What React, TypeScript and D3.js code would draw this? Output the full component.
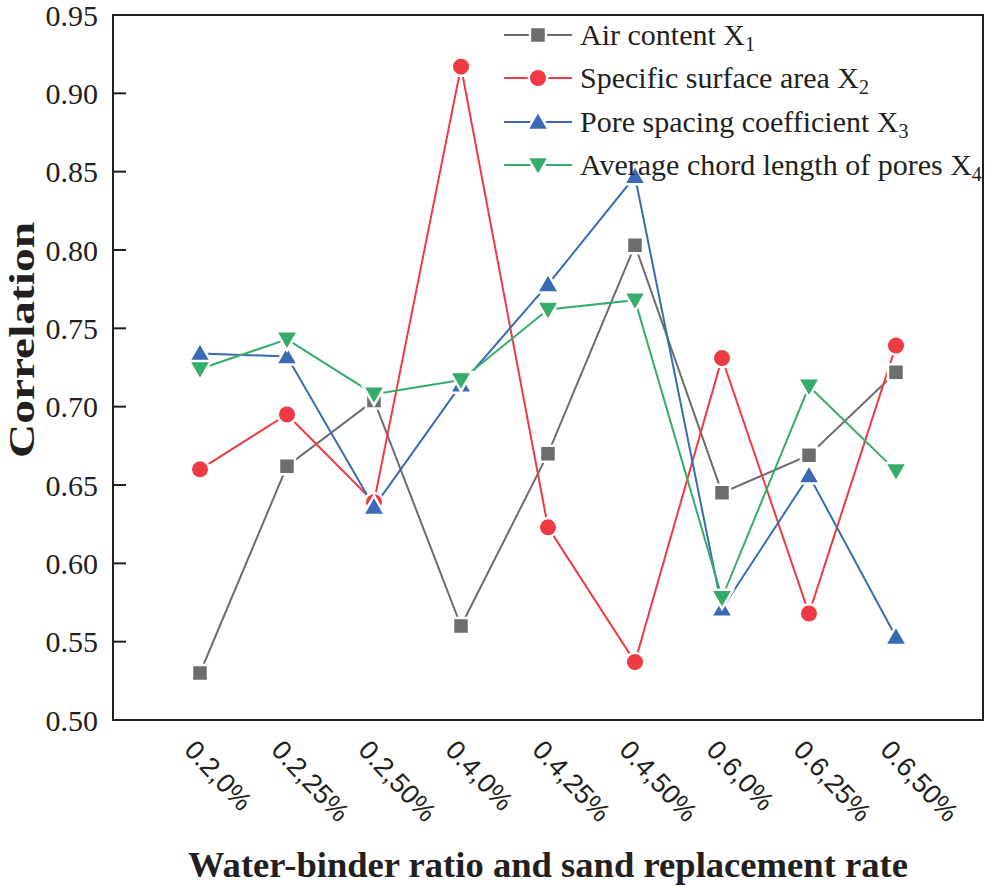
import React, { useEffect, useRef } from 'react';
import * as d3 from 'd3';

const categories = ['0.2,0%', '0.2,25%', '0.2,50%', '0.4,0%', '0.4,25%', '0.4,50%', '0.6,0%', '0.6,25%', '0.6,50%'];
const airContent = [0.530, 0.662, 0.704, 0.560, 0.670, 0.803, 0.645, 0.669, 0.722];
const specificSurface = [0.660, 0.695, 0.639, 0.917, 0.623, 0.537, 0.731, 0.568, 0.739];
const poreSpacing = [0.734, 0.732, 0.636, 0.714, 0.778, 0.847, 0.571, 0.656, 0.553];
const chordLength = [0.724, 0.743, 0.708, 0.717, 0.762, 0.768, 0.578, 0.713, 0.659];
const yTicks = [0.5, 0.55, 0.6, 0.65, 0.7, 0.75, 0.8, 0.85, 0.9, 0.95];

const series = [
    { name: 'Air content X', sub: '1', values: airContent, color: '#6d6d6d', shape: 'square' },
    { name: 'Specific surface area X', sub: '2', values: specificSurface, color: '#ee3b43', shape: 'circle' },
    { name: 'Pore spacing coefficient X', sub: '3', values: poreSpacing, color: '#3a6ab4', shape: 'triangle' },
    { name: 'Average chord length of pores X', sub: '4', values: chordLength, color: '#35ad6a', shape: 'down' },
];

const FONT = '"Liberation Serif", "Times New Roman", serif';
const SANS = '"Liberation Sans", Arial, sans-serif';

function markerPath(shape: string): string {
    if (shape === 'square') return 'M-8,-8H8V8H-8Z';
    if (shape === 'circle') return d3.symbol(d3.symbolCircle, 270)() as string;
    if (shape === 'triangle') return 'M0,-11L11,8H-11Z';
    return 'M0,11L11,-8H-11Z';
}

const App: React.FC = () => {
    const svgRef = useRef<SVGSVGElement>(null);

    useEffect(() => {
        if (!svgRef.current) return;
        const svg = d3.select(svgRef.current);
        svg.selectAll('*').remove();

        const left = 113, right = 983, top = 15, bottom = 720;

        const x = d3.scaleLinear().domain([0, categories.length + 1]).range([left, right]);
        const y = d3.scaleLinear().domain([0.5, 0.95]).range([bottom, top]);

        // frame
        svg.append('rect')
            .attr('x', left).attr('y', top)
            .attr('width', right - left).attr('height', bottom - top)
            .attr('fill', 'none').attr('stroke', '#231f20').attr('stroke-width', 2);

        // y axis ticks + labels
        const yAxis = svg.append('g');
        yTicks.forEach(t => {
            yAxis.append('line')
                .attr('x1', left).attr('x2', left + 13)
                .attr('y1', y(t)).attr('y2', y(t))
                .attr('stroke', '#231f20').attr('stroke-width', 2);
            yAxis.append('text')
                .attr('x', left - 15).attr('y', y(t))
                .attr('dy', '0.35em')
                .attr('text-anchor', 'end')
                .attr('font-family', FONT).attr('font-size', 30)
                .attr('fill', '#231f20')
                .text(t.toFixed(2));
        });

        // x labels
        categories.forEach((c, i) => {
            svg.append('text')
                .attr('transform', `translate(${x(i + 1) - 17},${bottom + 31}) rotate(47)`)
                .attr('text-anchor', 'start')
                .attr('font-family', SANS).attr('font-size', 27)
                .attr('fill', '#231f20')
                .text(c);
        });

        // titles
        svg.append('text')
            .attr('transform', `translate(34,340) rotate(-90)`)
            .attr('text-anchor', 'middle')
            .attr('font-family', FONT).attr('font-size', 36).attr('font-weight', 'bold')
            .attr('textLength', 236).attr('lengthAdjust', 'spacingAndGlyphs')
            .attr('fill', '#231f20')
            .text('Correlation');
        svg.append('text')
            .attr('x', 548).attr('y', 877)
            .attr('text-anchor', 'middle')
            .attr('font-family', FONT).attr('font-size', 35).attr('font-weight', 'bold')
            .attr('textLength', 720).attr('lengthAdjust', 'spacingAndGlyphs')
            .attr('fill', '#231f20')
            .text('Water-binder ratio and sand replacement rate');

        const line = d3.line<number>()
            .x((_, i) => x(i + 1))
            .y(d => y(d));

        series.forEach(s => {
            svg.append('path')
                .datum(s.values)
                .attr('d', line)
                .attr('fill', 'none')
                .attr('stroke', s.color)
                .attr('stroke-width', 2);
        });

        series.forEach(s => {
            svg.append('g')
                .selectAll('path')
                .data(s.values)
                .enter()
                .append('path')
                .attr('transform', (d, i) => `translate(${x(i + 1)},${y(d)})`)
                .attr('d', markerPath(s.shape))
                .attr('fill', s.color)
                .attr('stroke', '#ffffff')
                .attr('stroke-width', 2.5);
        });

        // legend
        const legend = svg.append('g');
        const rowY = [35, 78, 122, 165];
        series.forEach((s, i) => {
            const g = legend.append('g').attr('transform', `translate(0,${rowY[i]})`);
            g.append('line')
                .attr('x1', 504).attr('x2', 572).attr('y1', 0).attr('y2', 0)
                .attr('stroke', s.color).attr('stroke-width', 2);
            g.append('path')
                .attr('transform', 'translate(538,0)')
                .attr('d', markerPath(s.shape))
                .attr('fill', s.color)
                .attr('stroke', '#ffffff').attr('stroke-width', 2.5);
            const t = g.append('text')
                .attr('x', 580).attr('y', 10)
                .attr('font-family', FONT).attr('font-size', 30)
                .attr('fill', '#231f20');
            t.append('tspan').text(s.name);
            t.append('tspan').attr('font-size', 20).attr('dy', 6).text(s.sub);
        });
    }, []);

    return (
        <svg
            ref={svgRef}
            width={986}
            height={887}
            style={{ position: 'absolute', top: 0, left: 0, background: '#ffffff' }}
        />
    );
};

export default App;
